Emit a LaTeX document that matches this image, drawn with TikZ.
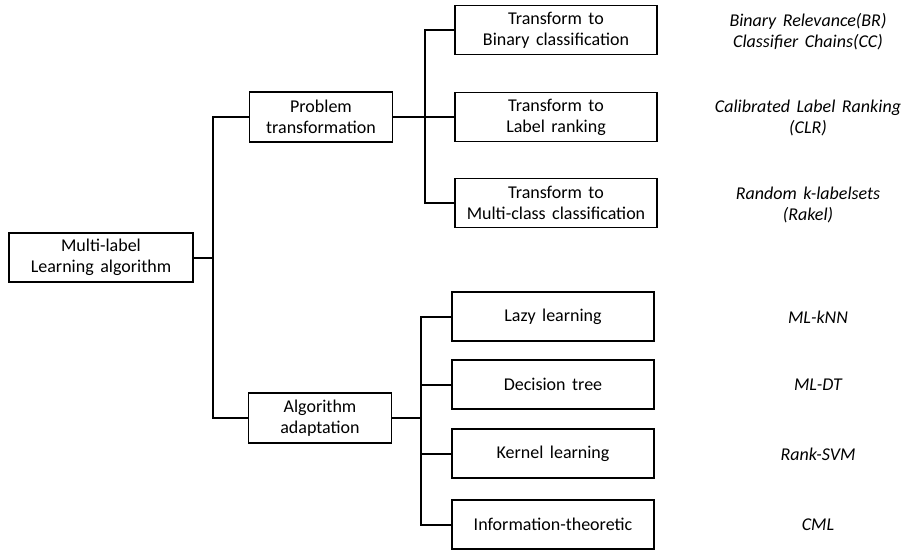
\documentclass[tikz,border=0pt]{standalone}
\usepackage{fontspec}
\setmainfont[WordSpace=1.6]{Carlito}
\begin{document}
\begin{tikzpicture}[x=1pt,y=-1pt,
  box/.style={draw=black,line width=1.4pt,rectangle,inner sep=0pt,
    align=center,font=\fontsize{18}{21}\selectfont},
  rootbox/.style={box,minimum width=184pt,minimum height=49pt},
  midbox/.style={box,minimum width=143pt,minimum height=50pt},
  leafbox/.style={box,minimum width=202pt,minimum height=49pt},
  method/.style={align=center,inner sep=0pt,font=\fontsize{18}{21}\selectfont\itshape},
  link/.style={draw=black,line width=2pt}]
\useasboundingbox (0,0) rectangle (904,550);

% root of the taxonomy
\node[rootbox] (root) at (101,257.5) {Multi-label\\Learning algorithm};

% the two families
\node[midbox] (pt) at (321,117) {Problem\\transformation};
\node[midbox] (aa) at (320,418) {Algorithm\\adaptation};

% problem transformation branches
\node[leafbox] (t1) at (556,30)  {Transform to\\Binary classification};
\node[leafbox] (t2) at (556,117) {Transform to\\Label ranking};
\node[leafbox] (t3) at (556,203) {Transform to\\Multi-class classification};

% algorithm adaptation branches
\node[leafbox] (a1) at (553,316.5) {Lazy learning};
\node[leafbox] (a2) at (553,384.5) {Decision tree};
\node[leafbox] (a3) at (553,453.5) {Kernel learning};
\node[leafbox] (a4) at (553,524.5) {Information-theoretic};

% representative methods
\node[method] (m1) at (808,32)  {Binary Relevance(BR)\\Classifier Chains(CC)};
\node[method] (m2) at (808,118) {Calibrated Label Ranking\\(CLR)};
\node[method] (m3) at (808,205) {Random k-labelsets\\(Rakel)};
\node[method] (m4) at (818,317) {ML-kNN};
\node[method] (m5) at (818,385) {ML-DT};
\node[method] (m6) at (818,454) {Rank-SVM};
\node[method] (m7) at (818,525) {CML};

% junction points of the tree
\coordinate (j1) at (213,257.5);
\coordinate (j2) at (425,117);
\coordinate (j3) at (421,418);

% connectors
\draw[link] (root.east) -- (j1);
\draw[link] (pt.west) -| (j1) |- (aa.west);

\draw[link] (pt.east) -- (t2.west);
\draw[link] (t1.west) -| (j2) |- (t3.west);

\draw[link] (aa.east) -- (j3);
\draw[link] (a1.west) -| (j3) |- (a4.west);
\draw[link] (a2.west) -- (a2.west -| j3);
\draw[link] (a3.west) -- (a3.west -| j3);
\end{tikzpicture}
\end{document}
